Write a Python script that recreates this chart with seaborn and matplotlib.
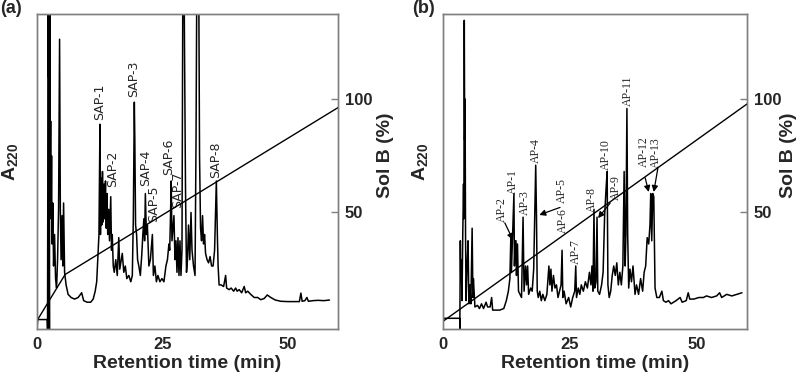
import matplotlib
matplotlib.use('Agg')
import matplotlib.pyplot as plt
import seaborn as sns

# =====================
# data (time in min, A220 as fraction of panel height)
# =====================
sap_time = [0.0, 0.15, 2.05, 2.1, 2.15, 2.2, 2.3, 2.35, 2.42, 2.48, 2.55, 2.65, 2.72, 2.8, 2.9, 3.0,
            3.15, 3.3, 3.5, 3.7, 3.9, 4.1, 4.3, 4.5, 4.65, 4.8, 5.0, 5.15, 5.3, 5.5, 5.8, 6.2, 6.8,
            7.5, 8.2, 8.9, 9.3, 10.0, 10.7, 11.2, 11.6, 11.9, 12.2, 12.35, 12.55, 12.65, 12.75, 12.9,
            13.05, 13.2, 13.35, 13.5, 13.65, 13.8, 13.95, 14.1, 14.3, 14.45, 14.7, 14.85, 15.0, 15.2,
            15.4, 15.7, 16.0, 16.3, 16.5, 16.8, 17.0, 17.3, 17.6, 17.9, 18.3, 18.7, 19.0, 19.2, 19.4,
            19.5, 19.65, 19.85, 20.05, 20.3, 20.6, 20.9, 21.1, 21.3, 21.45, 21.6, 21.8, 22.0, 22.3,
            22.6, 23.0, 23.2, 23.5, 23.8, 24.1, 24.5, 24.9, 25.3, 25.7, 26.0, 26.3, 26.45, 26.6, 26.75,
            26.9, 27.1, 27.3, 27.5, 27.7, 27.9, 28.1, 28.3, 28.5, 28.7, 28.9, 29.1, 29.25, 29.6, 29.8,
            30.0, 30.2, 30.45, 30.7, 30.9, 31.2, 31.5, 31.7, 31.9, 32.2, 32.4, 32.6, 32.8, 33.0, 33.2,
            33.4, 33.6, 33.9, 34.2, 34.5, 34.8, 35.1, 35.4, 35.75, 35.95, 36.1, 36.3, 36.7, 37.2, 37.6,
            37.8, 38.3, 38.7, 39.2, 39.6, 39.9, 40.3, 40.8, 41.3, 41.6, 42.0, 42.6, 43.3, 44.0, 44.6,
            45.3, 45.9, 46.6, 47.5, 48.6, 50.0, 51.5, 52.3, 52.6, 52.85, 53.4, 53.8, 54.1, 55.0, 56.0,
            57.2, 58.3]
sap_abs = [0.0, 0.03, 0.03, 0.0, 0.45, 1.25, 0.8, 1.25, 0.3, 0.0, 1.25, 0.5, 0.66, 0.35, 0.55, 0.27,
           0.4, 0.2, 0.3, 0.16, 0.13, 0.22, 0.38, 0.92, 0.38, 0.22, 0.36, 0.2, 0.4, 0.18, 0.14, 0.11, 0.1,
           0.095, 0.1, 0.115, 0.09, 0.085, 0.085, 0.095, 0.12, 0.15, 0.25, 0.3, 0.65, 0.3, 0.48, 0.33,
           0.5, 0.34, 0.46, 0.35, 0.47, 0.32, 0.43, 0.3, 0.38, 0.28, 0.42, 0.25, 0.3, 0.2,
           0.18, 0.22, 0.17, 0.29, 0.19, 0.22, 0.24, 0.18, 0.2, 0.16, 0.17, 0.15, 0.17, 0.35, 0.72,
           0.6, 0.33, 0.3, 0.22, 0.2, 0.17, 0.24, 0.3, 0.35, 0.28, 0.43, 0.3, 0.33, 0.2,
           0.22, 0.3, 0.17, 0.2, 0.15, 0.17, 0.15, 0.16, 0.15, 0.2, 0.22, 0.27, 0.25, 0.35, 0.47,
           0.28, 0.32, 0.36, 0.22, 0.28, 0.18, 0.29, 0.17, 0.28, 0.17, 0.25, 1.25, 1.25, 0.45, 0.18,
           0.22, 0.33, 0.22, 0.37, 0.25, 0.2, 0.17, 0.6, 1.25, 1.25, 0.55, 0.32, 0.28, 0.36, 0.27,
           0.3, 0.24, 0.22, 0.21, 0.23, 0.2, 0.2, 0.25, 0.47, 0.3, 0.2, 0.14, 0.14, 0.135, 0.17,
           0.13, 0.125, 0.13, 0.12, 0.13, 0.12, 0.125, 0.115, 0.135, 0.115, 0.12, 0.11, 0.1, 0.1, 0.093,
           0.097, 0.108, 0.1, 0.092, 0.088, 0.087, 0.087, 0.087, 0.114, 0.088, 0.09, 0.1, 0.088, 0.09, 0.091,
           0.09, 0.092]

ap_time = [0.0, 3.3, 3.32, 3.38, 3.42, 3.5, 3.6, 3.75, 3.9, 4.05, 4.12, 4.2, 4.28, 4.35, 4.45, 4.55,
           4.75, 4.95, 5.1, 5.3, 5.5, 5.75, 5.9, 6.0, 6.3, 6.8, 7.2, 7.6, 8.0, 8.5, 8.8, 9.3, 9.6, 9.8,
           10.5, 11.2, 12.0, 12.5, 12.9, 13.2, 13.4, 13.5, 13.7, 14.0, 14.1, 14.25, 14.4, 14.5, 14.7,
           14.9, 15.2, 15.5, 15.8, 16.0, 16.3, 16.5, 16.7, 16.9, 17.3, 17.6, 17.9, 18.15, 18.3, 18.45,
           18.6, 18.8, 19.1, 19.4, 19.7, 20.1, 20.5, 20.9, 21.1, 21.3, 21.5, 21.8, 22.1, 22.4, 22.7,
           23.0, 23.3, 23.5, 23.65, 23.9, 24.3, 24.8, 25.2, 25.6, 26.0, 26.2, 26.35, 26.7, 27.0, 27.3,
           27.7, 28.1, 28.5, 28.9, 29.2, 29.4, 29.6, 29.8, 29.95, 30.2, 30.4, 30.55, 30.9, 31.3, 31.6,
           31.9, 32.2, 32.4, 32.55, 32.8, 33.1, 33.4, 33.7, 34.0, 34.3, 34.6, 34.9, 35.2, 35.5, 35.75,
           35.95, 36.1, 36.3, 36.45, 36.65, 36.9, 37.2, 37.5, 37.9, 38.2, 38.6, 39.0, 39.4, 39.7, 40.0,
           40.3, 40.6, 40.85, 41.0, 41.2, 41.4, 41.6, 41.85, 42.2, 42.7, 43.2, 43.5, 44.0, 44.5, 45.0,
           45.5, 46.0, 46.8, 47.2, 48.0, 48.4, 48.7, 49.5, 50.5, 51.4, 52.0, 53.0, 54.0, 54.6, 55.0,
           56.0, 57.0, 58.0, 59.0]
ap_abs = [0.034, 0.034, 0.0, 0.2, 0.28, 0.17, 0.22, 0.09, 0.3, 0.46, 0.35, 0.98, 0.6, 0.73, 0.3, 0.09,
          0.2, 0.28, 0.08, 0.14, 0.08, 0.32, 0.1, 0.16, 0.07, 0.075, 0.065, 0.08, 0.065, 0.085, 0.07, 0.07,
          0.1, 0.06, 0.06, 0.06, 0.065, 0.09, 0.12, 0.16, 0.3, 0.18, 0.28, 0.43, 0.2, 0.28, 0.28, 0.17,
          0.27, 0.12, 0.11, 0.1, 0.355, 0.12, 0.2, 0.14, 0.2, 0.11, 0.13, 0.12, 0.19, 0.4, 0.52, 0.36,
          0.12, 0.1, 0.12, 0.09, 0.11, 0.09, 0.11, 0.2, 0.14, 0.19, 0.12, 0.17, 0.13, 0.14, 0.1,
          0.12, 0.14, 0.25, 0.1, 0.12, 0.08, 0.1, 0.07, 0.1, 0.12, 0.2, 0.1, 0.13, 0.11, 0.14,
          0.12, 0.15, 0.13, 0.18, 0.14, 0.2, 0.12, 0.38, 0.13, 0.15, 0.355, 0.12, 0.11, 0.14, 0.18,
          0.36, 0.45, 0.5, 0.14, 0.1, 0.12, 0.17, 0.2, 0.17, 0.21, 0.14, 0.18, 0.14, 0.2, 0.5,
          0.2, 0.3, 0.7, 0.3, 0.13, 0.19, 0.15, 0.2, 0.11, 0.14, 0.11, 0.16, 0.12, 0.18, 0.2,
          0.29, 0.27, 0.33, 0.43, 0.28, 0.43, 0.42, 0.13, 0.1, 0.1, 0.12, 0.09, 0.085, 0.09, 0.08,
          0.085, 0.09, 0.1, 0.085, 0.09, 0.115, 0.095, 0.095, 0.1, 0.1, 0.105, 0.1, 0.105, 0.115, 0.1,
          0.11, 0.105, 0.11, 0.115]

# solvent B gradient (%)
grad_a_time = [0, 5.6, 60]
grad_a_solb = [2, 22.4, 96.2]
grad_b_time = [0, 60]
grad_b_solb = [1.7, 97.8]

# peak labels: name, time, height of label foot
sap_labels = ['SAP-1', 'SAP-2', 'SAP-3', 'SAP-4', 'SAP-5', 'SAP-6', 'SAP-7', 'SAP-8']
sap_label_t = [12.5, 15.1, 19.2, 21.7, 23.3, 26.2, 28.0, 35.6]
sap_label_y = [0.665, 0.45, 0.735, 0.455, 0.34, 0.49, 0.384, 0.478]

ap_labels = ['AP-1', 'AP-2', 'AP-3', 'AP-4', 'AP-5', 'AP-6', 'AP-7', 'AP-8', 'AP-9', 'AP-10',
             'AP-11', 'AP-12', 'AP-13']
ap_label_t = [13.8, 11.6, 16.2, 18.3, 23.5, 23.7, 26.2, 29.4, 34.1, 32.1, 36.5, 39.7, 42.1]
ap_label_y = [0.43, 0.34, 0.362, 0.527, 0.40, 0.305, 0.205, 0.37, 0.41, 0.505, 0.708, 0.514, 0.51]

# arrows in (b): start (t, y) -> end (t, y)
ap_arrow_from = [(12.2, 0.337), (23.1, 0.386), (33.0, 0.40), (39.9, 0.48), (42.4, 0.51)]
ap_arrow_to = [(13.8, 0.283), (19.0, 0.362), (30.6, 0.352), (40.6, 0.435), (41.6, 0.435)]

# =====================
# figure
# =====================
sns.set_style('white')
plt.rcParams['font.family'] = ['Liberation Sans', 'DejaVu Sans']
plt.rcParams['mathtext.fontset'] = 'custom'
plt.rcParams['mathtext.rm'] = 'Liberation Sans'
plt.rcParams['mathtext.bf'] = 'Liberation Sans:bold'

fig = plt.figure(figsize=(7.98, 3.84), dpi=100)
ax_a = fig.add_axes([37 / 798, 55 / 384, 301 / 798, 315 / 384])
ax_b = fig.add_axes([443 / 798, 55 / 384, 304 / 798, 315 / 384])

frame = '#7f7f7f'


def setup_panel(ax, t, a, gt, gb, left_lab_x, right_lab_x):
    sns.lineplot(x=t, y=a, ax=ax, color='black', lw=1.1, estimator=None, sort=False)
    ax.set_xlim(0, 60)
    ax.set_ylim(0, 1)
    ax.set_xticks([0, 25, 50])
    ax.set_yticks([])
    ax.tick_params(axis='x', direction='in', length=4, width=1, color=frame, pad=6,
                   labelsize=12)
    for lab in ax.get_xticklabels():
        lab.set_fontweight('bold')
    ax.set_xlabel('Retention time (min)', fontsize=14, fontweight='bold', labelpad=2)
    ax.set_ylabel(r'$\mathbf{A_{220}}$', fontsize=14)
    ax.yaxis.set_label_coords(left_lab_x, 0.53)
    for sp in ax.spines.values():
        sp.set_color(frame)
        sp.set_linewidth(1.0)

    ax2 = ax.twinx()
    sns.lineplot(x=gt, y=gb, ax=ax2, color='black', lw=1.0, estimator=None, sort=False)
    ax2.set_ylim(-1.7, 137.6)
    ax2.set_yticks([50, 100])
    ax2.tick_params(axis='y', direction='in', length=5, width=1, color=frame, pad=5,
                    labelsize=12)
    for lab in ax2.get_yticklabels():
        lab.set_fontweight('bold')
    ax2.set_ylabel('Sol B (%)', fontsize=14, fontweight='bold')
    ax2.yaxis.set_label_coords(right_lab_x, 0.55)
    for sp in ax2.spines.values():
        sp.set_color(frame)
        sp.set_linewidth(1.0)
    return ax2


setup_panel(ax_a, sap_time, sap_abs, grad_a_time, grad_a_solb, -0.055, 1.13)
setup_panel(ax_b, ap_time, ap_abs, grad_b_time, grad_b_solb, -0.043, 1.108)

for name, t, y in zip(sap_labels, sap_label_t, sap_label_y):
    ax_a.text(t, y, name, rotation=90, ha='center', va='bottom', fontsize=9,
              family=['Liberation Sans Narrow', 'DejaVu Sans'], zorder=5)

for name, t, y in zip(ap_labels, ap_label_t, ap_label_y):
    ax_b.text(t, y, name, rotation=90, ha='center', va='bottom', fontsize=8.5,
              family=['Liberation Serif', 'DejaVu Serif'], zorder=5)

for start, end in zip(ap_arrow_from, ap_arrow_to):
    ax_b.annotate('', xy=end, xytext=start,
                  arrowprops=dict(arrowstyle='-|>', color='black', lw=0.9,
                                  mutation_scale=9, shrinkA=0, shrinkB=0))

fig.text(0.0, 1.0, '(a)', fontsize=13, fontweight='bold', ha='left', va='top')
fig.text(412 / 798, 1.0, '(b)', fontsize=13, fontweight='bold', ha='left', va='top')

fig.savefig('out.png', dpi=100)
